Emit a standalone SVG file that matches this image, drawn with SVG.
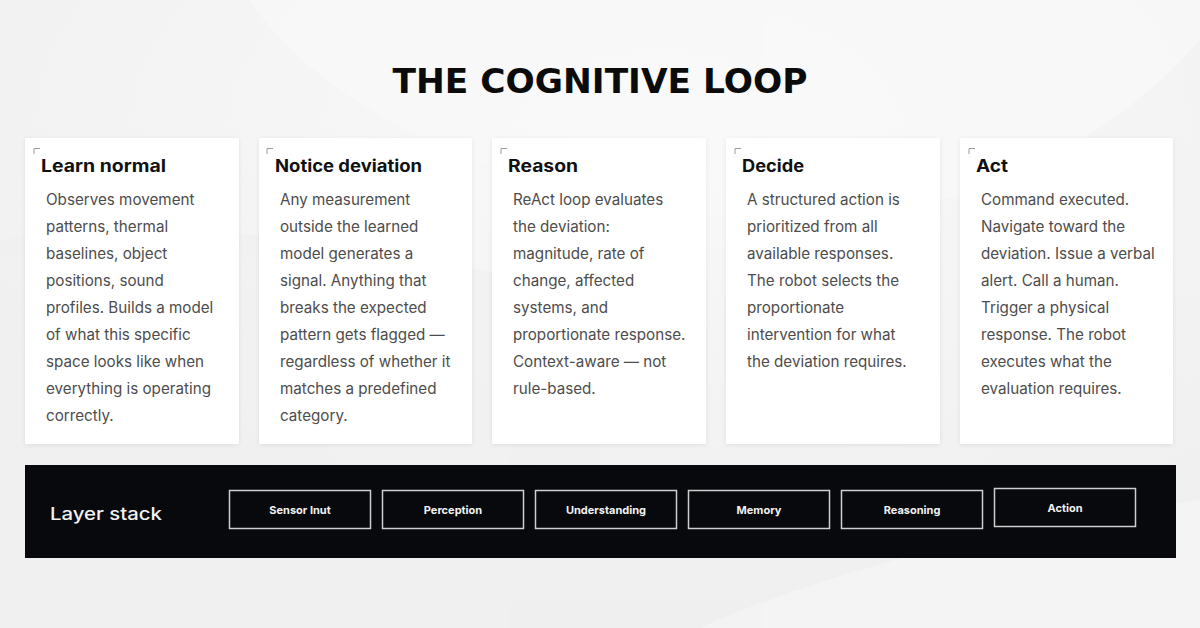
<svg xmlns="http://www.w3.org/2000/svg" width="1200" height="628" viewBox="0 0 1200 628">
<defs>
<style>
.card{fill:#ffffff;}
.corner{fill:none;stroke:#9a9a9a;stroke-width:1;}
.head{font-family:Inter,"Liberation Sans",sans-serif;font-weight:700;font-size:17px;fill:#111111;}
.body{font-family:Inter,"Liberation Sans",sans-serif;font-size:15.2px;fill:#4d4d4d;}
.layer{fill:#07090c;stroke:#cfcfcf;stroke-width:1.5;}
.lbl{font-family:Inter,"Liberation Sans",sans-serif;font-weight:700;font-size:11px;fill:#f2f2f2;text-anchor:middle;}
</style>
<filter id="sh" x="-10%" y="-10%" width="120%" height="120%">
<feDropShadow dx="0" dy="1" stdDeviation="2" flood-color="#000" flood-opacity="0.08"/>
</filter>
<radialGradient id="bg" cx="0.55" cy="0.2" r="0.8">
<stop offset="0" stop-color="#f9f9f9"/>
<stop offset="1" stop-color="#efefef"/>
</radialGradient>
</defs>
<rect x="0" y="0" width="1200" height="628" fill="url(#bg)"/>
<g id="background-shapes" opacity="0.6">
<path d="M250,0 C330,120 520,200 760,220 C980,230 1150,120 1230,0 Z" fill="#fafafa"/>
<path d="M0,240 C200,210 420,250 600,300 L600,628 L0,628 Z" fill="#f0f0f0"/>
<path d="M700,628 C850,560 1050,520 1200,500 L1200,628 Z" fill="#f7f7f7"/>
</g>
<text id="title" x="600" y="93" text-anchor="middle" font-family="'DejaVu Sans','Liberation Sans',sans-serif" font-weight="700" font-size="33" fill="#0b0b0b" textLength="415" lengthAdjust="spacingAndGlyphs">THE COGNITIVE LOOP</text>

<g id="connectors"></g>

<g id="card-learn">
<rect class="card" x="25" y="138" width="214" height="306" filter="url(#sh)"/>
<path class="corner" d="M34,154 V148.5 H40"/>
<text class="head" x="41" y="172" textLength="125" lengthAdjust="spacingAndGlyphs">Learn normal</text>
<text class="body" x="46" y="205">Observes movement</text>
<text class="body" x="46" y="232">patterns, thermal</text>
<text class="body" x="46" y="259">baselines, object</text>
<text class="body" x="46" y="286">positions, sound</text>
<text class="body" x="46" y="313">profiles. Builds a model</text>
<text class="body" x="46" y="340">of what this specific</text>
<text class="body" x="46" y="367">space looks like when</text>
<text class="body" x="46" y="394">everything is operating</text>
<text class="body" x="46" y="421">correctly.</text>
</g>

<g id="card-notice">
<rect class="card" x="259" y="138" width="213" height="306" filter="url(#sh)"/>
<path class="corner" d="M267,154 V148.5 H273"/>
<text class="head" x="275" y="172" textLength="147" lengthAdjust="spacingAndGlyphs">Notice deviation</text>
<text class="body" x="280" y="205">Any measurement</text>
<text class="body" x="280" y="232">outside the learned</text>
<text class="body" x="280" y="259">model generates a</text>
<text class="body" x="280" y="286">signal. Anything that</text>
<text class="body" x="280" y="313">breaks the expected</text>
<text class="body" x="280" y="340">pattern gets flagged —</text>
<text class="body" x="280" y="367">regardless of whether it</text>
<text class="body" x="280" y="394">matches a predefined</text>
<text class="body" x="280" y="421">category.</text>
</g>

<g id="card-reason">
<rect class="card" x="492" y="138" width="214" height="306" filter="url(#sh)"/>
<path class="corner" d="M501,154 V148.5 H507"/>
<text class="head" x="508" y="172" textLength="70" lengthAdjust="spacingAndGlyphs">Reason</text>
<text class="body" x="513" y="205">ReAct loop evaluates</text>
<text class="body" x="513" y="232">the deviation:</text>
<text class="body" x="513" y="259">magnitude, rate of</text>
<text class="body" x="513" y="286">change, affected</text>
<text class="body" x="513" y="313">systems, and</text>
<text class="body" x="513" y="340">proportionate response.</text>
<text class="body" x="513" y="367">Context-aware — not</text>
<text class="body" x="513" y="394">rule-based.</text>
</g>

<g id="card-decide">
<rect class="card" x="726" y="138" width="214" height="306" filter="url(#sh)"/>
<path class="corner" d="M735,154 V148.5 H741"/>
<text class="head" x="742" y="172" textLength="62" lengthAdjust="spacingAndGlyphs">Decide</text>
<text class="body" x="747" y="205">A structured action is</text>
<text class="body" x="747" y="232">prioritized from all</text>
<text class="body" x="747" y="259">available responses.</text>
<text class="body" x="747" y="286">The robot selects the</text>
<text class="body" x="747" y="313">proportionate</text>
<text class="body" x="747" y="340">intervention for what</text>
<text class="body" x="747" y="367">the deviation requires.</text>
</g>

<g id="card-act">
<rect class="card" x="960" y="138" width="213" height="306" filter="url(#sh)"/>
<path class="corner" d="M969,154 V148.5 H975"/>
<text class="head" x="976" y="172" textLength="32" lengthAdjust="spacingAndGlyphs">Act</text>
<text class="body" x="981" y="205">Command executed.</text>
<text class="body" x="981" y="232">Navigate toward the</text>
<text class="body" x="981" y="259">deviation. Issue a verbal</text>
<text class="body" x="981" y="286">alert. Call a human.</text>
<text class="body" x="981" y="313">Trigger a physical</text>
<text class="body" x="981" y="340">response. The robot</text>
<text class="body" x="981" y="367">executes what the</text>
<text class="body" x="981" y="394">evaluation requires.</text>
</g>

<g id="layer-stack">
<rect x="25" y="465" width="1151" height="93" fill="#08090c"/>
<text x="50" y="520" font-family="Inter,'Liberation Sans',sans-serif" font-weight="500" font-size="17" fill="#f2f2f2" textLength="112" lengthAdjust="spacingAndGlyphs">Layer stack</text>
</g>
<g id="layer-sensor"><rect class="layer" x="229.5" y="490.5" width="141" height="38"/><text class="lbl" x="300" y="514">Sensor Inut</text></g>
<g id="layer-perception"><rect class="layer" x="382.5" y="490.5" width="141" height="38"/><text class="lbl" x="453" y="514">Perception</text></g>
<g id="layer-understanding"><rect class="layer" x="535.5" y="490.5" width="141" height="38"/><text class="lbl" x="606" y="514">Understanding</text></g>
<g id="layer-memory"><rect class="layer" x="688.5" y="490.5" width="141" height="38"/><text class="lbl" x="759" y="514">Memory</text></g>
<g id="layer-reasoning"><rect class="layer" x="841.5" y="490.5" width="141" height="38"/><text class="lbl" x="912" y="514">Reasoning</text></g>
<g id="layer-action"><rect class="layer" x="994.5" y="488.5" width="141" height="38"/><text class="lbl" x="1065" y="512">Action</text></g>
</svg>
